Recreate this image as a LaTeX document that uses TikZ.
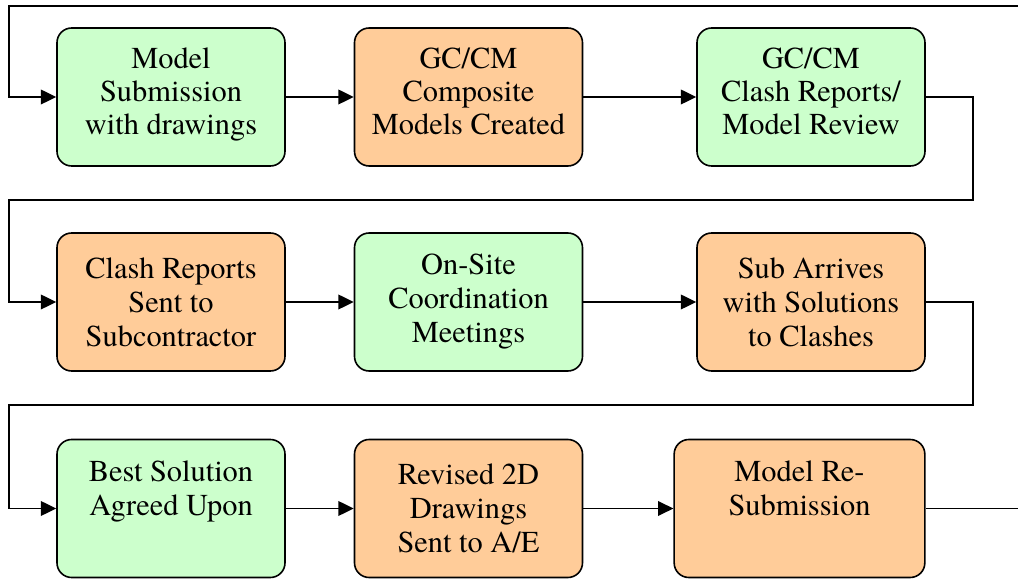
\documentclass[tikz,border=0pt]{standalone}
\usepackage{fontspec}
\newfontfamily\boxserif{texgyretermes}[Extension=.otf, UprightFont=*-regular, BoldFont=*-bold, ItalicFont=*-italic, BoldItalicFont=*-bolditalic]
\usetikzlibrary{arrows.meta}
\definecolor{boxgreen}{HTML}{CCFFCC}
\definecolor{boxorange}{HTML}{FFCC99}
\tikzset{
  stepbox/.style={draw=black, line width=1.2pt, rounded corners=11pt, inner sep=0pt,
    minimum width=171pt, minimum height=103.5pt, align=center,
    font=\boxserif\fontsize{22.8pt}{25.5pt}\selectfont},
  toprow/.style={font=\boxserif\fontsize{22.8pt}{24.75pt}\selectfont, text depth=9.4pt},
  greenbox/.style={stepbox, fill=boxgreen},
  orangebox/.style={stepbox, fill=boxorange},
  flow/.style={line width=1.2pt, -{Triangle[length=11.5pt,width=11pt]}},
  plain/.style={line width=1.2pt},
}
\begin{document}
\begin{tikzpicture}[x=0.75pt,y=-0.75pt]
\useasboundingbox (0,0) rectangle (1018,580);
% row 1
\node[greenbox,toprow]  (b1) at (171,97)   {Model\\Submission\\with drawings};
\node[orangebox,toprow] (b2) at (468.5,97) {GC/CM\\Composite\\Models Created};
\node[greenbox,toprow]  (b3) at (811,97)   {GC/CM\\Clash Reports/\\Model Review};
% row 2
\node[orangebox] (b4) at (171,302)   {Clash Reports\\Sent to\\Subcontractor};
\node[greenbox]  (b5) at (468.5,302) {On-Site\\Coordination\\Meetings};
\node[orangebox] (b6) at (811,302)   {Sub Arrives\\with Solutions\\to Clashes};
% row 3
\node[greenbox]  (b7) at (171,508.5)   {Best Solution\\Agreed Upon\\\phantom{Xg}};
\node[orangebox] (b8) at (468.5,508.5) {Revised 2D\\Drawings\\Sent to A/E};
\node[orangebox, minimum width=188pt] (b9) at (799.5,508.5) {Model Re-\\Submission\\\phantom{Xg}};
% loop coordinates
\coordinate (tr) at (1018,6);
\coordinate (tl) at (9,6);
\coordinate (r1) at (973,200);
\coordinate (l1) at (9,200);
\coordinate (r2) at (973,405);
\coordinate (l2) at (9,405);
\coordinate (endr) at (1018,508.5);
% connectors
\draw[flow] (tr) -- (tl) |- (b1);
\draw[flow] (b1) -- (b2);
\draw[flow] (b2) -- (b3);
\draw[flow] (b3.east) -| (r1) -- (l1) |- (b4);
\draw[flow] (b4) -- (b5);
\draw[flow] (b5) -- (b6);
\draw[flow] (b6.east) -| (r2) -- (l2) |- (b7);
\draw[flow] (b7) -- (b8);
\draw[flow] (b8) -- (b9);
\draw[plain] (b9.east) -- (endr);
\end{tikzpicture}
\end{document}
